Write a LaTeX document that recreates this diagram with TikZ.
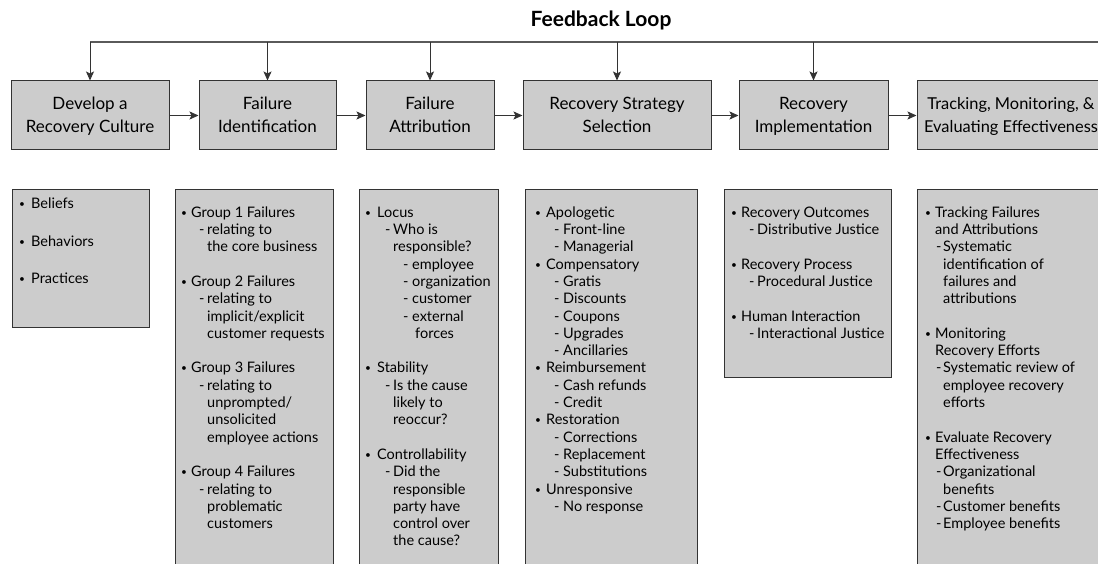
\documentclass[tikz,border=0pt]{standalone}
\usepackage{fontspec}
\setmainfont{Lato}
\usetikzlibrary{arrows.meta}
\definecolor{boxgray}{HTML}{CCCCCC}
\definecolor{edgegray}{HTML}{333333}
\definecolor{loopgray}{HTML}{5A5A5A}
% two-line stage label with fixed baselines
\newcommand\hdr[2]{\rule{0pt}{15pt}#1\\#2\rule[-3pt]{0pt}{3pt}}
% list lines: offset of mark, gap to text, text
\newcommand\fst{\rule{0pt}{12pt}}
\newcommand\bdot{\raisebox{1pt}{\scalebox{0.7}{\textbullet}}}
\newcommand\bul[3]{\hspace*{#1pt}\makebox[#2pt][l]{\hspace{-2pt}\bdot}#3}
\newcommand\dsh[3]{\hspace*{#1pt}\makebox[#2pt][l]{-}#3}
\newcommand\cnt[2]{\hspace*{#1pt}#2}
\tikzset{
  stage/.style={draw=edgegray, fill=boxgray, line width=1pt, minimum height=69,
    inner sep=0pt, align=center, font=\fontsize{17}{23}\selectfont},
  listbox/.style={draw=edgegray, fill=boxgray, line width=1pt},
  listtext/.style={anchor=north west, inner sep=0pt, align=left,
    font=\fontsize{14.5}{17.3}\selectfont},
  flow/.style={-{Stealth[length=9pt,width=8pt,inset=2pt]}, edgegray, line width=1pt},
  fbline/.style={loopgray, line width=1.3pt}
}
\begin{document}
\begin{tikzpicture}[x=1pt,y=-1pt]
  \useasboundingbox (0,0) rectangle (1098,564);
  \clip (0,0) rectangle (1098,564);
  \node[anchor=base, font=\fontsize{21}{24}\selectfont\bfseries] (title) at (601,27) {Feedback Loop};

  % stages
  \node[stage, minimum width=158] (s1) at (90,115.5) {\hdr{Develop a}{Recovery Culture}};
  \node[stage, minimum width=137] (s2) at (267.5,115.5) {\hdr{Failure}{Identification}};
  \node[stage, minimum width=128] (s3) at (430,115.5) {\hdr{Failure}{Attribution}};
  \node[stage, minimum width=188] (s4) at (617,115.5) {\hdr{Recovery Strategy}{Selection}};
  \node[stage, minimum width=149] (s5) at (813.5,115.5) {\hdr{Recovery}{Implementation}};
  \node[stage, minimum width=188, font=\fontsize{16.4}{23}\selectfont] (s6) at (1011,115.5)
    {\hdr{Tracking, Monitoring, \&}{Evaluating Effectiveness}};
  \foreach \a/\b in {s1/s2,s2/s3,s3/s4,s4/s5,s5/s6}
    \draw[flow] (\a) -- (\b);

  % feedback loop
  \coordinate (fbL) at (90,42);
  \coordinate (fbR) at (1100,42);
  \draw[fbline] (fbL) -- (fbR);
  \foreach \s in {s1,s2,s3,s4,s5}
    \draw[flow] (\s.north |- fbL) -- (\s.north);

  % details
  \draw[listbox] (12,190) rectangle (149,327);
  \draw[listbox] (175,190) rectangle (333,580);
  \draw[listbox] (359,190) rectangle (498,580);
  \draw[listbox] (525,190) rectangle (697,580);
  \draw[listbox] (724,190) rectangle (891,377);
  \draw[listbox] (917,190) rectangle (1110,580);

  \node[listtext] (c1) at (12,196.5) {%
    \fst\bul{9}{10}{Beliefs}\\[20.2pt]
    \bul{9}{10}{Behaviors}\\[20.2pt]
    \bul{9}{10}{Practices}};
  \node[listtext] (c2) at (175,205) {%
    \fst\bul{8}{8}{Group 1 Failures}\\
    \dsh{24}{8}{relating to}\\
    \cnt{32}{the core business}\\[17.3pt]
    \bul{8}{8}{Group 2 Failures}\\
    \dsh{24}{8}{relating to}\\
    \cnt{32}{implicit/explicit}\\
    \cnt{32}{customer requests}\\[17.3pt]
    \bul{8}{8}{Group 3 Failures}\\
    \dsh{24}{8}{relating to}\\
    \cnt{32}{unprompted/}\\
    \cnt{32}{unsolicited}\\
    \cnt{32}{employee actions}\\[17.3pt]
    \bul{8}{8}{Group 4 Failures}\\
    \dsh{24}{8}{relating to}\\
    \cnt{32}{problematic}\\
    \cnt{32}{customers}};
  \node[listtext] (c3) at (359,205) {%
    \fst\bul{8}{10}{Locus}\\
    \dsh{26}{8}{Who is}\\
    \cnt{34}{responsible?}\\
    \dsh{44}{9}{employee}\\
    \dsh{44}{9}{organization}\\
    \dsh{44}{9}{customer}\\
    \dsh{44}{9}{external}\\
    \cnt{56}{forces}\\[17.3pt]
    \bul{8}{10}{Stability}\\
    \dsh{26}{8}{Is the cause}\\
    \cnt{34}{likely to}\\
    \cnt{34}{reoccur?}\\[17.3pt]
    \bul{8}{10}{Controllability}\\
    \dsh{26}{8}{Did the}\\
    \cnt{34}{responsible}\\
    \cnt{34}{party have}\\
    \cnt{34}{control over}\\
    \cnt{34}{the cause?}};
  \node[listtext] (c4) at (525,205) {%
    \fst\bul{12}{9}{Apologetic}\\
    \dsh{29}{9}{Front-line}\\
    \dsh{29}{9}{Managerial}\\
    \bul{12}{9}{Compensatory}\\
    \dsh{29}{9}{Gratis}\\
    \dsh{29}{9}{Discounts}\\
    \dsh{29}{9}{Coupons}\\
    \dsh{29}{9}{Upgrades}\\
    \dsh{29}{9}{Ancillaries}\\
    \bul{12}{9}{Reimbursement}\\
    \dsh{29}{9}{Cash refunds}\\
    \dsh{29}{9}{Credit}\\
    \bul{12}{9}{Restoration}\\
    \dsh{29}{9}{Corrections}\\
    \dsh{29}{9}{Replacement}\\
    \dsh{29}{9}{Substitutions}\\
    \bul{12}{9}{Unresponsive}\\
    \dsh{29}{9}{No response}};
  \node[listtext] (c5) at (724,205) {%
    \fst\bul{9}{8}{Recovery Outcomes}\\
    \dsh{25}{8}{Distributive Justice}\\[17.3pt]
    \bul{9}{8}{Recovery Process}\\
    \dsh{25}{8}{Procedural Justice}\\[17.3pt]
    \bul{9}{8}{Human Interaction}\\
    \dsh{25}{8}{Interactional Justice}};
  \node[listtext] (c6) at (917,205) {%
    \fst\bul{10}{8}{Tracking Failures}\\
    \cnt{18}{and Attributions}\\
    \dsh{19}{7}{Systematic}\\
    \cnt{26}{identification of}\\
    \cnt{26}{failures and}\\
    \cnt{26}{attributions}\\[17.3pt]
    \bul{10}{8}{Monitoring}\\
    \cnt{18}{Recovery Efforts}\\
    \dsh{19}{7}{Systematic review of}\\
    \cnt{26}{employee recovery}\\
    \cnt{26}{efforts}\\[17.3pt]
    \bul{10}{8}{Evaluate Recovery}\\
    \cnt{18}{Effectiveness}\\
    \dsh{19}{7}{Organizational}\\
    \cnt{26}{benefits}\\
    \dsh{19}{7}{Customer benefits}\\
    \dsh{19}{7}{Employee benefits}};
\end{tikzpicture}
\end{document}
